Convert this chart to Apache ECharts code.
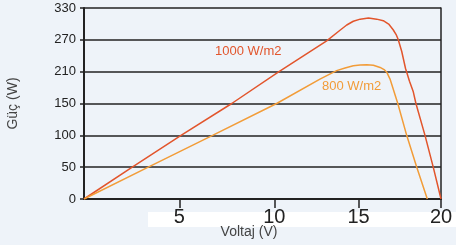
<!DOCTYPE html>
<html>
<head>
<meta charset="utf-8">
<script src="https://cdn.jsdelivr.net/npm/echarts@6/dist/echarts.min.js"></script>
<style>
  html, body { margin: 0; padding: 0; background: #eef3f9; }
  #chart { width: 456px; height: 245px; }
</style>
</head>
<body>
<div id="chart"></div>
<script>
// tick labels (both axes in the picture are drawn with uneven spacing)
const xTicks = [0, 5, 10, 15, 20];
const yTicks = [0, 50, 100, 150, 210, 270, 330];

// 1000 W/m2 curve: voltage (V) and power (W)
const v1000 = [0, 2.53, 5.09, 7.76, 10.28, 13.11, 13.9, 14.3, 14.69, 15.1, 15.6, 16.1, 16.5, 16.85, 17.1, 17.28, 17.4, 17.62, 17.85, 18.09, 18.32, 18.48, 19.03, 19.53, 20];
const p1000 = [0, 50, 100, 150, 210, 268, 288, 298, 305, 309, 311, 309, 306, 299, 289, 280, 271, 248, 216, 192, 172, 150, 100, 50, 0];

// 800 W/m2 curve
const v800 = [0, 3.37, 6.75, 10.14, 12.71, 13.7, 14.2, 14.69, 15.1, 15.5, 15.9, 16.31, 16.55, 16.71, 16.91, 17.38, 17.92, 18.53, 19.17];
const p800 = [0, 50, 100, 150, 196, 212, 217, 221, 222.5, 223, 222, 218, 214, 209, 196, 150, 100, 50, 0];

// where each x tick sits along the drawn axis (0..20 units of axis length)
const xTickSpots = [0, 5.34, 10.66, 15.38, 20];

function piecewise(val, from, to) {
  for (let i = 1; i < from.length; i++) {
    if (val <= from[i]) {
      const t = (val - from[i - 1]) / (from[i] - from[i - 1]);
      return to[i - 1] + t * (to[i] - to[i - 1]);
    }
  }
  return to[to.length - 1];
}
const yIndex = yTicks.map((_, i) => i);
const toX = v => piecewise(v, xTicks, xTickSpots);
const toY = p => piecewise(p, yTicks, yIndex);

const c1000 = '#e2552c';
const c800 = '#f29c38';

const chart = echarts.init(document.getElementById('chart'));
chart.setOption({
  backgroundColor: '#eef3f9',
  animation: false,
  grid: { left: 84, right: 15, top: 8, bottom: 46, outerBoundsMode: 'none', containLabel: false },
  graphic: [
    {
      type: 'rect',
      z: 0,
      shape: { x: 148, y: 212, width: 308, height: 15 },
      style: { fill: '#ffffff' }
    },
    {
      type: 'text', left: 215, top: 45,
      style: { text: '1000 W/m2', fill: c1000, font: '13px "Liberation Sans", Arial, sans-serif' }
    },
    {
      type: 'text', left: 322, top: 80,
      style: { text: '800 W/m2', fill: c800, font: '13px "Liberation Sans", Arial, sans-serif' }
    }
  ],
  xAxis: {
    type: 'value',
    min: 0,
    max: 20,
    name: 'Voltaj (V)',
    nameLocation: 'middle',
    nameGap: 26,
    nameMoveOverlap: false,
    nameTextStyle: { color: '#444', fontSize: 14, fontFamily: 'Liberation Sans', padding: [0, 27, 0, 0] },
    axisLine: { lineStyle: { color: '#222', width: 2 } },
    axisTick: { show: true, length: 9, customValues: xTickSpots.slice(1), lineStyle: { color: '#222', width: 1.5 } },
    axisLabel: {
      customValues: xTickSpots.slice(1),
      margin: 8,
      color: '#222',
      fontSize: 20,
      fontFamily: 'Liberation Sans',
      formatter: v => {
        const i = xTickSpots.indexOf(v);
        return i >= 0 ? String(xTicks[i]) : '';
      }
    },
    splitLine: { show: false }
  },
  yAxis: [
    {
      type: 'value',
      min: 0,
      max: yTicks.length - 1,
      interval: 1,
      name: 'Güç (W)',
      nameLocation: 'middle',
      nameRotate: 90,
      nameGap: 64,
      nameMoveOverlap: false,
      nameTextStyle: { color: '#444', fontSize: 14, fontFamily: 'Liberation Sans' },
      axisLine: { show: true, lineStyle: { color: '#222', width: 2 } },
      axisTick: { show: true, length: 4, lineStyle: { color: '#222', width: 1.5 } },
      axisLabel: {
        margin: 8,
        color: '#222',
        fontSize: 13,
        fontFamily: 'Liberation Sans',
        formatter: v => String(yTicks[Math.round(v)])
      },
      splitLine: { show: true, lineStyle: { color: '#222', width: 1.5 } }
    },
    {
      type: 'value',
      position: 'right',
      min: 0,
      max: yTicks.length - 1,
      interval: 1,
      axisLine: { show: true, lineStyle: { color: '#222', width: 1.5 } },
      axisTick: { show: false },
      axisLabel: { show: false },
      splitLine: { show: false }
    }
  ],
  series: [
    {
      name: '1000 W/m2',
      type: 'line',
      showSymbol: false,
      smooth: false,
      z: 5,
      lineStyle: { color: c1000, width: 1.5 },
      data: v1000.map((v, i) => [toX(v), toY(p1000[i])])
    },
    {
      name: '800 W/m2',
      type: 'line',
      showSymbol: false,
      smooth: false,
      z: 5,
      lineStyle: { color: c800, width: 1.5 },
      data: v800.map((v, i) => [toX(v), toY(p800[i])])
    }
  ]
});
</script>
</body>
</html>
